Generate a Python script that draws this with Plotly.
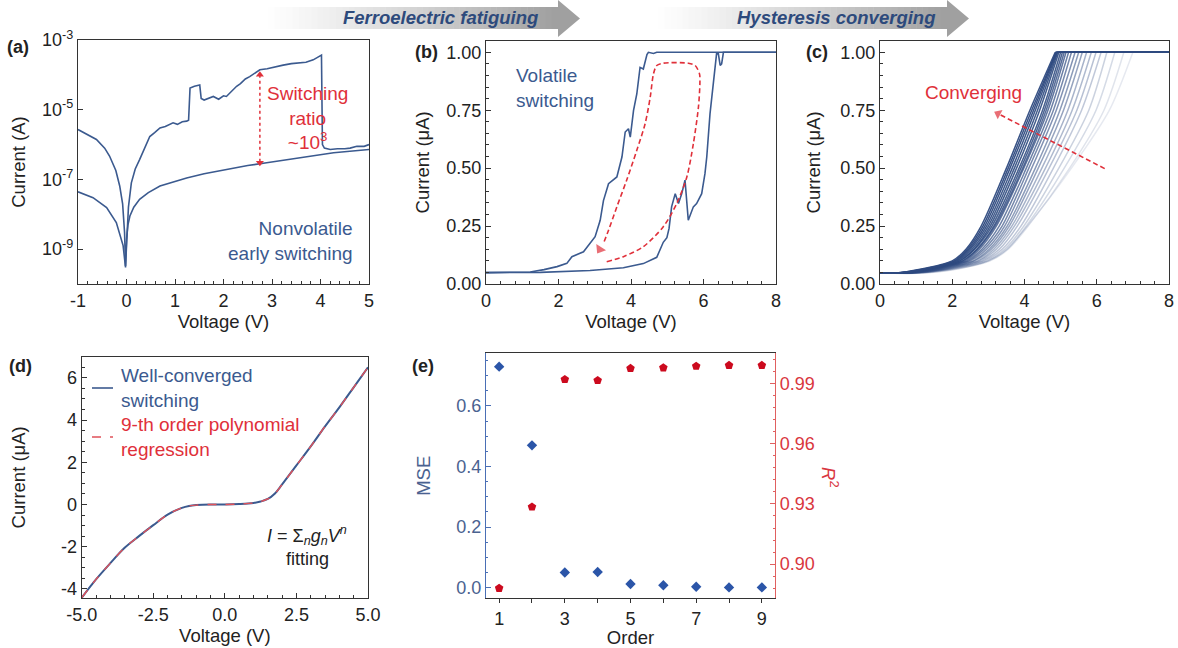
import plotly.graph_objects as go

W, H = 1178, 648
FONT = "Liberation Sans, Arial, sans-serif"
BLUE = "#3b5a8f"
RED = "#e0303a"
TXT = "#222222"
TICK = 18
TITLE = 18.5
NOTE = 19

def X(p):
    return p / W

def Y(p):
    return 1 - p / H

# ---------------- data ----------------
# (a) nonvolatile early switching, log I-V
a_up_v = [-1, -0.8, -0.62, -0.45, -0.35, -0.22, -0.14, -0.08, -0.04, -0.02, 0.0, 0.01, 0.04, 0.1, 0.18,
          0.27, 0.38, 0.48, 0.58, 0.69, 0.8, 0.96, 1.05, 1.15, 1.24, 1.28, 1.31, 1.4, 1.51, 1.54, 1.6,
          1.7, 1.79, 1.9, 2.0, 2.06, 2.15, 2.27, 2.35, 2.45, 2.54, 2.65, 2.75, 2.9, 3.05, 3.23, 3.4,
          3.58, 3.7, 3.85, 3.95, 4.02, 4.04, 4.08, 4.2, 4.35, 4.5, 4.61, 4.75, 4.9, 5.0]
a_up_i = [2.7e-6, 1.9e-6, 1.4e-6, 7.9e-7, 4.7e-7, 1.8e-7, 6.5e-8, 2.0e-8, 3.0e-9, 3.3e-10, 1.0e-9, 2.0e-9,
          1.6e-8, 8.0e-8, 2.0e-7, 3.7e-7, 8.0e-7, 1.7e-6, 2.2e-6, 3.0e-6, 3.3e-6, 4.2e-6, 3.8e-6, 4.5e-6,
          4.7e-6, 5.0e-6, 4.2e-5, 4.7e-5, 5.1e-5, 2.1e-5, 1.9e-5, 2.2e-5, 2.4e-5, 2.0e-5, 2.5e-5, 2.4e-5,
          3.2e-5, 4.7e-5, 5.6e-5, 7.6e-5, 8.9e-5, 1.1e-4, 1.4e-4, 1.5e-4, 1.7e-4, 1.9e-4, 2.1e-4, 2.2e-4,
          2.3e-4, 2.7e-4, 3.2e-4, 3.7e-4, 1.0e-6, 7.9e-7, 7.2e-7, 7.6e-7, 7.6e-7, 7.9e-7, 8.9e-7, 8.9e-7,
          1.0e-6]
a_lo_v = [-1, -0.69, -0.41, -0.21, -0.07, -0.02, 0.0, 0.03, 0.07, 0.15, 0.27, 0.45, 0.69, 1.0, 1.24, 1.6,
          2.06, 2.5, 2.89, 3.58, 4.27, 5.0]
a_lo_i = [4.4e-8, 3.0e-8, 1.55e-8, 5.8e-9, 1.26e-9, 3.0e-10, 1.9e-9, 5.0e-9, 8.9e-9, 1.6e-8, 2.7e-8, 4.2e-8,
          6.5e-8, 8.9e-8, 1.1e-7, 1.45e-7, 1.95e-7, 2.5e-7, 3.0e-7, 4.2e-7, 5.8e-7, 7.2e-7]
a_ratio_v = [2.75, 2.75]
a_ratio_i = [1.0e-4, 3.0e-7]
a_xticks = [-1, 0, 1, 2, 3, 4, 5]
a_xtext = ["-1", "0", "1", "2", "3", "4", "5"]
a_ticks = [1e-9, 1e-7, 1e-5, 1e-3]
a_ticktext = ["10<sup>-9</sup>", "10<sup>-7</sup>", "10<sup>-5</sup>", "10<sup>-3</sup>"]

# (b) volatile switching hysteresis
b_up_v = [0, 1.22, 1.6, 1.96, 2.23, 2.37, 2.69, 2.87, 3.01, 3.15, 3.24, 3.38, 3.61, 3.75, 3.84, 3.93,
          3.98, 4.07, 4.16, 4.25, 4.34, 4.44, 4.48, 4.62, 4.71, 8]
b_up_i = [0.049, 0.052, 0.062, 0.075, 0.089, 0.118, 0.139, 0.175, 0.204, 0.275, 0.36, 0.433, 0.462, 0.548,
          0.656, 0.67, 0.634, 0.749, 0.82, 0.935, 0.928, 0.99, 1.0, 0.995, 1.0, 1.0]
b_lo_v = [0, 1.5, 2.87, 3.79, 4.34, 4.71, 4.89, 4.99, 5.05, 5.12, 5.22, 5.31, 5.40, 5.49, 5.58, 5.72,
          5.81, 5.95, 6.04, 6.09, 6.18, 6.27, 6.36, 6.41, 6.46, 6.50, 6.55, 8]
b_lo_i = [0.049, 0.05, 0.058, 0.07, 0.088, 0.115, 0.18, 0.20, 0.24, 0.333, 0.39, 0.347, 0.39, 0.448,
          0.275, 0.333, 0.347, 0.39, 0.476, 0.548, 0.735, 0.864, 0.993, 0.993, 0.943, 0.95, 1.0, 1.0]
b_loop_v = [3.33, 3.79, 4.34, 4.89, 5.26, 5.54, 5.72, 5.86, 5.90, 5.89, 5.77, 5.58, 4.89, 4.71, 4.62,
            4.53, 4.39, 4.16, 3.88, 3.61, 3.38, 3.24, 3.14]
b_loop_i = [0.096, 0.118, 0.161, 0.247, 0.347, 0.462, 0.605, 0.763, 0.864, 0.907, 0.943, 0.953, 0.953,
            0.943, 0.907, 0.806, 0.692, 0.577, 0.448, 0.333, 0.232, 0.175, 0.15]

# (c) converging sweeps: V where I leaves the baseline and reaches each level (light -> dark)
c_levels = [0.047, 0.06, 0.1, 0.15, 0.25, 0.5, 0.75, 1.0]
c_curves = [
    [1.2, 2.00, 3.00, 3.50, 4.08, 5.30, 6.35, 7.00],
    [1.2, 1.95, 3.05, 3.55, 4.10, 5.25, 6.20, 6.75],
    [1.1, 1.88, 3.00, 3.52, 4.05, 5.10, 5.98, 6.50],
    [1.0, 1.80, 2.95, 3.45, 3.98, 4.95, 5.78, 6.28],
    [1.0, 1.75, 2.88, 3.38, 3.90, 4.80, 5.58, 6.12],
    [0.9, 1.70, 2.82, 3.30, 3.80, 4.68, 5.45, 5.98],
    [0.9, 1.65, 2.75, 3.22, 3.72, 4.58, 5.32, 5.85],
    [0.85, 1.60, 2.70, 3.15, 3.65, 4.48, 5.20, 5.72],
    [0.8, 1.55, 2.62, 3.08, 3.58, 4.38, 5.08, 5.60],
    [0.75, 1.50, 2.58, 3.02, 3.52, 4.30, 4.98, 5.50],
    [0.7, 1.45, 2.50, 2.95, 3.45, 4.20, 4.88, 5.40],
    [0.7, 1.40, 2.45, 2.88, 3.38, 4.12, 4.80, 5.30],
    [0.65, 1.35, 2.40, 2.82, 3.30, 4.05, 4.72, 5.22],
    [0.6, 1.30, 2.35, 2.75, 3.22, 3.98, 4.65, 5.15],
    [0.6, 1.25, 2.30, 2.70, 3.18, 3.95, 4.60, 5.10],
    [0.55, 1.25, 2.28, 2.68, 3.15, 3.90, 4.55, 5.05],
    [0.55, 1.20, 2.22, 2.62, 3.10, 3.85, 4.50, 5.00],
    [0.55, 1.20, 2.20, 2.60, 3.05, 3.78, 4.42, 4.95],
    [0.5, 1.15, 2.15, 2.55, 3.00, 3.72, 4.36, 4.92],
    [0.5, 1.10, 2.12, 2.50, 2.95, 3.66, 4.30, 4.90],
    [0.5, 1.10, 2.08, 2.46, 2.90, 3.60, 4.25, 4.88],
    [0.45, 1.05, 2.05, 2.42, 2.85, 3.55, 4.20, 4.87],
    [0.45, 1.00, 2.00, 2.38, 2.80, 3.50, 4.15, 4.85],
]
c_alpha = [0.12, 0.15, 0.2, 0.25, 0.3, 0.34, 0.38, 0.42, 0.5, 0.55, 0.6, 0.65, 0.7, 0.75, 0.8,
           0.85, 0.88, 0.9, 0.9, 0.92, 0.95, 0.95, 0.95]
c_arrow_v = [6.22, 3.27]
c_arrow_i = [0.498, 0.735]

# (d) well-converged switching and 9th-order fit
d_v = [-5, -4.5, -4, -3.5, -3, -2.5, -2, -1.5, -1.25, -1, -0.5, 0, 0.5, 1, 1.25, 1.5, 1.75, 2, 2.5, 3,
       3.5, 4, 4.5, 5]
d_i = [-4.42, -3.55, -2.78, -2.05, -1.5, -0.98, -0.48, -0.16, -0.07, -0.03, 0.0, 0.0, 0.02, 0.07, 0.14,
       0.26, 0.52, 0.95, 1.85, 2.75, 3.7, 4.6, 5.55, 6.5]
d_xticks = [-5, -2.5, 0, 2.5, 5]
d_xtext = ["-5.0", "-2.5", "0.0", "2.5", "5.0"]
d_yticks = [-4, -2, 0, 2, 4, 6]
d_ytext = ["-4", "-2", "0", "2", "4", "6"]

# (e) fitting quality vs polynomial order
e_order = [1, 2, 3, 4, 5, 6, 7, 8, 9]
e_mse = [0.73, 0.47, 0.05, 0.052, 0.012, 0.008, 0.003, 0.001, 0.001]
e_r2 = [0.888, 0.9285, 0.992, 0.9915, 0.9975, 0.9978, 0.9986, 0.999, 0.999]

# ---------------- figure ----------------
fig = go.Figure()

# (a)
fig.add_trace(go.Scatter(x=a_lo_v, y=a_lo_i, mode="lines", line=dict(color=BLUE, width=1.6),
                         xaxis="x", yaxis="y", showlegend=False))
fig.add_trace(go.Scatter(x=a_up_v, y=a_up_i, mode="lines", line=dict(color=BLUE, width=1.6),
                         xaxis="x", yaxis="y", showlegend=False))
fig.add_trace(go.Scatter(x=a_ratio_v, y=a_ratio_i, mode="lines+markers",
                         line=dict(color=RED, width=1.5, dash="dot"),
                         marker=dict(symbol=["triangle-up", "triangle-down"], size=7, color=RED),
                         xaxis="x", yaxis="y", showlegend=False))

# (b)
fig.add_trace(go.Scatter(x=b_lo_v, y=b_lo_i, mode="lines", line=dict(color=BLUE, width=1.6),
                         xaxis="x2", yaxis="y2", showlegend=False))
fig.add_trace(go.Scatter(x=b_up_v, y=b_up_i, mode="lines", line=dict(color=BLUE, width=1.6),
                         xaxis="x2", yaxis="y2", showlegend=False))
fig.add_trace(go.Scatter(x=b_loop_v[:-1], y=b_loop_i[:-1], mode="lines",
                         line=dict(color=RED, width=1.6, dash="5px,3px", shape="spline", smoothing=0.8),
                         xaxis="x2", yaxis="y2", showlegend=False))
fig.add_trace(go.Scatter(x=b_loop_v[-2:], y=b_loop_i[-2:], mode="markers",
                         marker=dict(symbol="triangle-up", size=[0, 10], color=RED, angleref="previous",
                                     line=dict(width=0)),
                         xaxis="x2", yaxis="y2", showlegend=False))

# (c)
for cv, al in zip(c_curves, c_alpha):
    xs = [0] + cv
    ys = [c_levels[0]] + c_levels
    fig.add_trace(go.Scatter(x=xs, y=ys, mode="lines",
                             line=dict(color=f"rgba(46,74,128,{al})", width=1.5, shape="spline", smoothing=0.8),
                             xaxis="x3", yaxis="y3", showlegend=False))
    fig.add_trace(go.Scatter(x=[cv[-1], 8], y=[1.0, 1.0], mode="lines",
                             line=dict(color=f"rgba(46,74,128,{al})", width=1.5),
                             xaxis="x3", yaxis="y3", showlegend=False))
fig.add_trace(go.Scatter(x=c_arrow_v, y=c_arrow_i, mode="lines+markers",
                         line=dict(color=RED, width=1.6, dash="5px,3px"),
                         marker=dict(symbol="triangle-up", size=[0, 9], color=RED, angleref="previous",
                                     line=dict(width=0)),
                         xaxis="x3", yaxis="y3", showlegend=False))

# (d)
fig.add_trace(go.Scatter(x=d_v, y=d_i, mode="lines", line=dict(color=BLUE, width=2, shape="spline"),
                         xaxis="x4", yaxis="y4", showlegend=False))
fig.add_trace(go.Scatter(x=d_v, y=d_i, mode="lines",
                         line=dict(color="#e0525a", width=1.4, dash="dash", shape="spline"),
                         xaxis="x4", yaxis="y4", showlegend=False))

# (e)
fig.add_trace(go.Scatter(x=e_order, y=e_mse, mode="markers",
                         marker=dict(symbol="diamond", size=8, color="#2b55a8"),
                         xaxis="x5", yaxis="y5", showlegend=False))
fig.add_trace(go.Scatter(x=e_order, y=e_r2, mode="markers",
                         marker=dict(symbol="pentagon", size=9, color="#cc0a1e"),
                         xaxis="x5", yaxis="y6", showlegend=False))


def ax(domain, **kw):
    d = dict(domain=domain, showline=True, linecolor="#333", linewidth=1.3, mirror=True,
             ticks="inside", ticklen=5, tickcolor="#333", tickwidth=1,
             tickfont=dict(family=FONT, size=TICK, color=TXT), showgrid=False, zeroline=False,
             automargin=False, title_font=dict(family=FONT, size=TITLE, color=TXT))
    d.update(kw)
    return d


def mnr(dt, color="#333", length=3, ticks="inside"):
    return dict(ticks=ticks, dtick=dt, ticklen=length, tickcolor=color)


layout = dict(
    width=W, height=H, margin=dict(l=0, r=0, t=0, b=0),
    paper_bgcolor="white", plot_bgcolor="white", template="none",
    font=dict(family=FONT, color=TXT),
    # (a)
    xaxis=ax([X(78), X(369)], anchor="y", range=[-1, 5], tickvals=a_xticks, ticktext=a_xtext,
             minor=mnr(0.2), title=dict(text="Voltage (V)", standoff=0)),
    yaxis=ax([Y(284), Y(40)], anchor="x", type="log", range=[-10, -3], tickvals=a_ticks,
             ticktext=a_ticktext, title=dict(text="Current (A)", standoff=11)),
    # (b)
    xaxis2=ax([X(486), X(776)], anchor="y2", range=[0, 8], dtick=2, minor=mnr(0.4),
              title=dict(text="Voltage (V)", standoff=0)),
    yaxis2=ax([Y(284), Y(40.7)], anchor="x2", range=[0, 1.05], tickvals=[0, 0.25, 0.5, 0.75, 1.0],
              tickformat=".2f", minor=mnr(0.05), title=dict(text="Current (μA)", standoff=11)),
    # (c)
    xaxis3=ax([X(880), X(1169)], anchor="y3", range=[0, 8], dtick=2, minor=mnr(0.4),
              title=dict(text="Voltage (V)", standoff=0)),
    yaxis3=ax([Y(284), Y(40.7)], anchor="x3", range=[0, 1.05], tickvals=[0, 0.25, 0.5, 0.75, 1.0],
              tickformat=".2f", minor=mnr(0.05), title=dict(text="Current (μA)", standoff=14)),
    # (d)
    xaxis4=ax([X(81.7), X(368)], anchor="y4", range=[-5, 5], tickvals=d_xticks, ticktext=d_xtext,
              minor=mnr(0.5), title=dict(text="Voltage (V)", standoff=2)),
    yaxis4=ax([Y(598), Y(356.7)], anchor="x4", range=[-4.43, 7], tickvals=d_yticks, ticktext=d_ytext,
              minor=mnr(0.5), title=dict(text="Current (μA)", standoff=30)),
    # (e)
    xaxis5=ax([X(486), X(775)], anchor="y5", range=[0.6, 9.4], tick0=1, dtick=2,
              ticks="outside", ticklen=4, minor=mnr(1, length=4, ticks="outside"),
              title=dict(text="Order", standoff=5)),
    yaxis5=ax([Y(598.3), Y(353.3)], anchor="x5", range=[-0.035, 0.774], tickvals=[0, 0.2, 0.4, 0.6],
              tickformat=".1f", mirror=False, linecolor="#4a6fb5",
              tickfont=dict(family=FONT, size=TICK, color="#4a6290"),
              minor=mnr(0.05, color="#4a6fb5", length=2), tickcolor="#4a6fb5",
              title=dict(text="MSE", standoff=20, font=dict(family=FONT, size=TITLE, color="#4a6290"))),
    yaxis6=ax([Y(598.3), Y(353.3)], anchor="x5", overlaying="y5", side="right", range=[0.883, 1.005],
              tickvals=[0.90, 0.93, 0.96, 0.99], tickformat=".2f", mirror=False, linecolor="#e06060",
              tickcolor="#e06060", tickfont=dict(family=FONT, size=TICK, color="#d9363e"),
              minor=mnr(0.006, color="#e06060", length=2)),
)
fig.update_layout(**layout)

# ---------- decorative top arrows ----------
shapes = []


def grad_arrow(x0, x1, tip, yb0, yb1, yh0, yh1):
    n = 48
    for k in range(n):
        f = k / (n - 1)
        c = int(255 - 95 * f ** 1.2)
        xa = x0 + (x1 - x0) * k / n
        xb = x0 + (x1 - x0) * (k + 1) / n + 0.5
        shapes.append(dict(type="rect", xref="paper", yref="paper", x0=X(xa), x1=X(xb), y0=Y(yb1), y1=Y(yb0),
                           fillcolor=f"rgb({c},{c},{c})", line=dict(width=0), layer="below"))
    ym = (yh0 + yh1) / 2
    shapes.append(dict(type="path", xref="paper", yref="paper",
                       path=f"M {X(x1)},{Y(yh0)} L {X(tip)},{Y(ym)} L {X(x1)},{Y(yh1)} Z",
                       fillcolor="rgb(160,160,160)", line=dict(width=0), layer="below"))


grad_arrow(262, 558, 580, 7, 29, 0, 37)
grad_arrow(652, 947, 969, 7, 29, 0, 37)

# legend samples in (d)
shapes.append(dict(type="line", xref="paper", yref="paper", x0=X(92), x1=X(113), y0=Y(388), y1=Y(388),
                   line=dict(color=BLUE, width=1.6)))
shapes.append(dict(type="line", xref="paper", yref="paper", x0=X(92), x1=X(113), y0=Y(437), y1=Y(437),
                   line=dict(color="#e0525a", width=1.6, dash="dash")))
fig.update_layout(shapes=shapes)

ann = []


def txt(x, y, s, size=NOTE, color=TXT, xanchor="center", align="center", bold=False, italic=False):
    if bold:
        s = f"<b>{s}</b>"
    if italic:
        s = f"<i>{s}</i>"
    ann.append(dict(x=X(x), y=Y(y), xref="paper", yref="paper", text=s, showarrow=False,
                    font=dict(family=FONT, size=size, color=color), xanchor=xanchor, yanchor="middle",
                    align=align))


txt(440, 17, "<b><i>Ferroelectric fatiguing</i></b>", size=18.5, color="#2d4a7c")
txt(836, 17, "<b><i>Hysteresis converging</i></b>", size=18.5, color="#2d4a7c")

txt(5, 47, "(a)", size=18, xanchor="left", bold=True)
txt(413, 52, "(b)", size=18, xanchor="left", bold=True)
txt(804, 52, "(c)", size=18, xanchor="left", bold=True)
txt(7, 366, "(d)", size=18, xanchor="left", bold=True)
txt(410, 366, "(e)", size=18, xanchor="left", bold=True)

txt(307, 118.5, "Switching<br>ratio<br>~10<sup>3</sup>", color=RED)
txt(355, 241, "Nonvolatile<br>early switching", color=BLUE, xanchor="right", align="right")
txt(514, 87.5, "Volatile<br>switching", color=BLUE, xanchor="left", align="left")
txt(973, 93, "Converging", color=RED)
txt(119, 388, "Well-converged<br>switching", color=BLUE, xanchor="left", align="left")
txt(119, 437, "9-th order polynomial<br>regression", color=RED, xanchor="left", align="left")
txt(307, 535, "<i>I</i> = Σ<sub><i>n</i></sub><i>g</i><sub><i>n</i></sub><i>V</i><sup><i>n</i></sup>", size=18)
txt(307, 559, "fitting", size=18)
ann.append(dict(x=X(830), y=Y(477), xref="paper", yref="paper", text="<i>R</i><sup>2</sup>",
                showarrow=False, textangle=90, font=dict(family=FONT, size=TITLE, color="#d9363e"),
                xanchor="center", yanchor="middle"))
fig.update_layout(annotations=ann)

fig.write_html("out.html")
